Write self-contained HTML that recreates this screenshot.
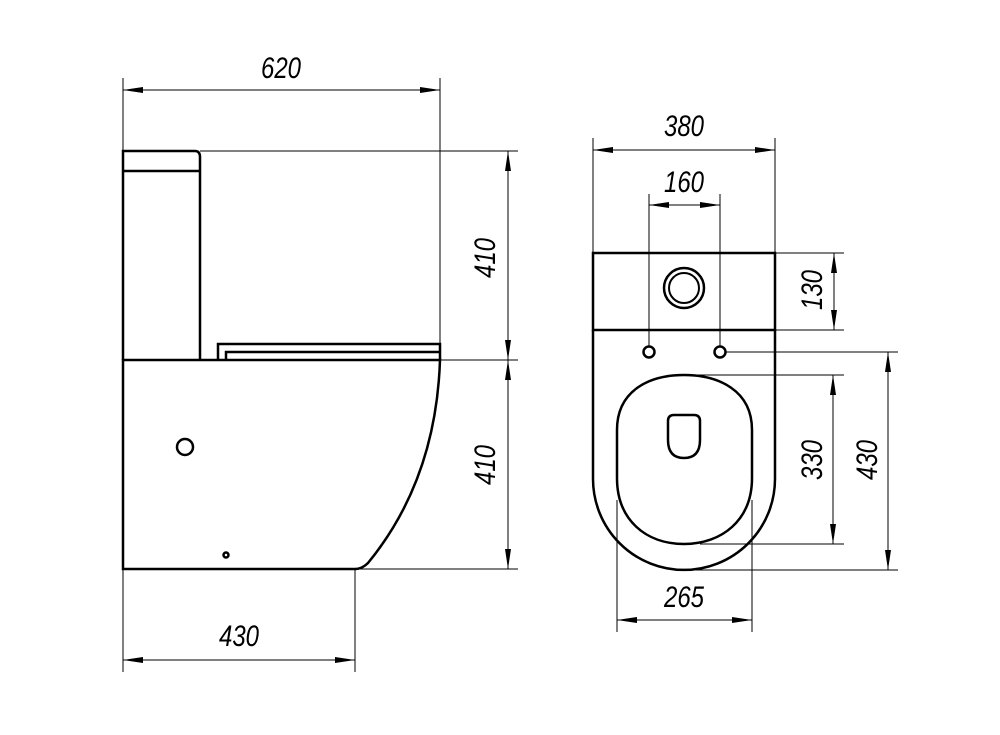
<!DOCTYPE html>
<html><head><style>
html,body{margin:0;padding:0;background:#fff;}
svg{display:block}
text{font-family:"Liberation Sans",sans-serif;font-style:italic;font-size:30px;fill:#000;}
</style></head><body>
<svg width="1000" height="735" viewBox="0 0 1000 735" xmlns="http://www.w3.org/2000/svg">
<defs>
<marker id="a" viewBox="0 0 20 8" refX="20" refY="4" markerWidth="20" markerHeight="8" markerUnits="userSpaceOnUse" orient="auto-start-reverse"><path d="M0,1 L20,4 L0,7 Z" fill="#000"/></marker>
</defs>
<g stroke="#000" stroke-width="1" fill="none">
<line x1="123" y1="78" x2="123" y2="151"/>
<line x1="123" y1="569" x2="123" y2="672"/>
<line x1="440" y1="78" x2="440" y2="344"/>
<line x1="200" y1="151" x2="518" y2="151"/>
<line x1="440" y1="360" x2="518" y2="360"/>
<line x1="355" y1="569" x2="518" y2="569"/>
<line x1="355" y1="569" x2="355" y2="672"/>
<line x1="123" y1="90" x2="440" y2="90" marker-start="url(#a)" marker-end="url(#a)"/>
<line x1="123" y1="660" x2="355" y2="660" marker-start="url(#a)" marker-end="url(#a)"/>
<line x1="508" y1="151" x2="508" y2="360" marker-start="url(#a)" marker-end="url(#a)"/>
<line x1="508" y1="360" x2="508" y2="569" marker-start="url(#a)" marker-end="url(#a)"/>
<line x1="593" y1="138" x2="593" y2="253"/>
<line x1="775" y1="138" x2="775" y2="253"/>
<line x1="649" y1="194" x2="649" y2="346"/>
<line x1="720" y1="194" x2="720" y2="346"/>
<line x1="775" y1="253" x2="844" y2="253"/>
<line x1="775" y1="330" x2="844" y2="330"/>
<line x1="726" y1="352" x2="898" y2="352"/>
<line x1="684" y1="570" x2="898" y2="570"/>
<line x1="684" y1="375" x2="844" y2="375"/>
<line x1="700" y1="544" x2="844" y2="544"/>
<line x1="617" y1="500" x2="617" y2="632"/>
<line x1="752" y1="500" x2="752" y2="632"/>
<line x1="593" y1="150" x2="775" y2="150" marker-start="url(#a)" marker-end="url(#a)"/>
<line x1="649" y1="205" x2="720" y2="205" marker-start="url(#a)" marker-end="url(#a)"/>
<line x1="834" y1="253" x2="834" y2="330" marker-start="url(#a)" marker-end="url(#a)"/>
<line x1="833" y1="375" x2="833" y2="544" marker-start="url(#a)" marker-end="url(#a)"/>
<line x1="888" y1="352" x2="888" y2="570" marker-start="url(#a)" marker-end="url(#a)"/>
<line x1="617" y1="620" x2="752" y2="620" marker-start="url(#a)" marker-end="url(#a)"/>
</g>
<g stroke="#000" stroke-width="2.5" fill="none">
<path d="M123,360 L123,151 L195,151 Q200,151 200,157 L200,360"/>
<line x1="123" y1="171" x2="200" y2="171"/>
<path d="M123,360 L440,360 Q436,480 368,563 Q362,569 355,569 L123,569 Z"/>
<path d="M218,360 L218,344 L440,344 L440,360"/>
<path d="M226,360 L226,352 L440,352"/>
<circle cx="185" cy="447" r="8"/>
<circle cx="226" cy="555" r="2.5"/>
<rect x="593" y="253" width="182" height="77"/>
<circle cx="684" cy="288" r="20"/>
<circle cx="684" cy="288" r="15" stroke-width="2"/>
<circle cx="649" cy="352" r="5.5"/>
<circle cx="720" cy="352" r="5.5"/>
<path d="M593,330 L593,479 A91,91 0 0 0 775,479 L775,330"/>
<path d="M617,430 C617,390 650,375 684,375 C718,375 752,390 752,430 L752,478 C752,520 722,544 684,544 C646,544 617,520 617,478 Z"/>
<path d="M674,415 L694,415 Q700,415 700,421 L700,440 Q700,458 684,458 Q668,458 668,440 L668,421 Q668,415 674,415 Z"/>
</g>
<g>
<text x="281" y="78" text-anchor="middle" transform="translate(281 0) scale(0.8 1) translate(-281 0)">620</text>
<text x="239" y="646" text-anchor="middle" transform="translate(239 0) scale(0.8 1) translate(-239 0)">430</text>
<text x="684" y="136" text-anchor="middle" transform="translate(684 0) scale(0.8 1) translate(-684 0)">380</text>
<text x="684" y="192" text-anchor="middle" transform="translate(684 0) scale(0.8 1) translate(-684 0)">160</text>
<text x="684" y="607" text-anchor="middle" transform="translate(684 0) scale(0.8 1) translate(-684 0)">265</text>
<text transform="translate(495 258) rotate(-90) scale(0.8 1)" text-anchor="middle">410</text>
<text transform="translate(495 465) rotate(-90) scale(0.8 1)" text-anchor="middle">410</text>
<text transform="translate(822 290) rotate(-90) scale(0.8 1)" text-anchor="middle">130</text>
<text transform="translate(822 460) rotate(-90) scale(0.8 1)" text-anchor="middle">330</text>
<text transform="translate(877 460) rotate(-90) scale(0.8 1)" text-anchor="middle">430</text>
</g>
</svg>
</body></html>
